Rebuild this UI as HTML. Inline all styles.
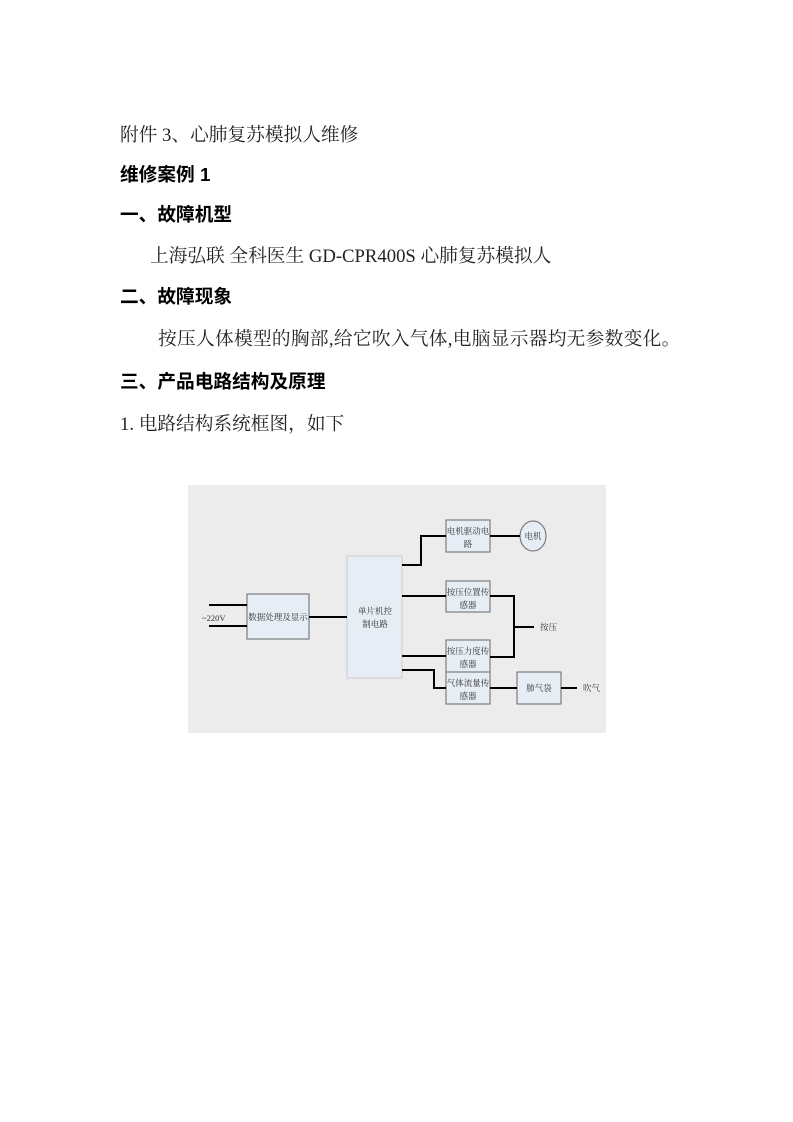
<!DOCTYPE html>
<html><head><meta charset="utf-8"><style>
body{margin:0;width:793px;height:1122px;background:#fff;position:relative;overflow:hidden}
.t{position:absolute;white-space:nowrap;font-family:"Liberation Serif","Noto Serif CJK SC",serif;font-size:18.7px;line-height:18px;color:#222}
.b{font-family:"Liberation Sans","Noto Sans CJK SC",sans-serif;font-weight:bold;color:#000}
</style></head><body>
<div class="t" style="left:120px;top:127px">附件 3、心肺复苏模拟人维修</div>
<div class="t b" style="left:120px;top:166px">维修案例 1</div>
<div class="t b" style="left:120px;top:206px">一、故障机型</div>
<div class="t" style="left:150px;top:248px">上海弘联 全科医生 GD-CPR400S 心肺复苏模拟人</div>
<div class="t b" style="left:120px;top:288px">二、故障现象</div>
<div class="t" style="left:158px;top:331px;letter-spacing:0.3px">按压人体模型的胸部,给它吹入气体,电脑显示器均无参数变化。</div>
<div class="t b" style="left:120px;top:373px">三、产品电路结构及原理</div>
<div class="t" style="left:120px;top:416px">1. 电路结构系统框图，如下</div>

<svg style="position:absolute;left:0;top:0" width="793" height="1122" font-family="Liberation Serif,Noto Serif CJK SC,serif" font-size="8.5" fill="#333">
<rect x="188" y="485" width="418" height="248" fill="#ececec"/>
<g fill="#e6edf4" stroke="#666" stroke-width="1">
<rect x="247" y="594" width="62" height="45"/>
<rect x="347" y="556" width="55" height="122" stroke="#ccc"/>
<rect x="446" y="520" width="44" height="32"/>
<rect x="446" y="581" width="44" height="31"/>
<rect x="446" y="640" width="44" height="32"/>
<rect x="446" y="672" width="44" height="32"/>
<rect x="517" y="672" width="44" height="32"/>
<ellipse cx="533" cy="536" rx="13" ry="15"/>
</g>
<g stroke="#000" stroke-width="2" fill="none">
<path d="M209 605H247M209 626H247M309 617H347"/>
<path d="M402 565H421V536H446M490 536H520"/>
<path d="M402 596H446M490 596H514V657H490M514 627H534"/>
<path d="M402 656H446M402 670H434V688H446M490 688H517M561 688H577"/>
</g>
<text x="202" y="621">~220V</text>
<text x="278" y="620" text-anchor="middle">数据处理及显示</text>
<text x="375" y="614" text-anchor="middle">单片机控</text>
<text x="375" y="627" text-anchor="middle">制电路</text>
<text x="468" y="534" text-anchor="middle">电机驱动电</text>
<text x="468" y="547" text-anchor="middle">路</text>
<text x="533" y="539" text-anchor="middle">电机</text>
<text x="468" y="595" text-anchor="middle">按压位置传</text>
<text x="468" y="608" text-anchor="middle">感器</text>
<text x="468" y="654" text-anchor="middle">按压力度传</text>
<text x="468" y="667" text-anchor="middle">感器</text>
<text x="468" y="686" text-anchor="middle">气体流量传</text>
<text x="468" y="699" text-anchor="middle">感器</text>
<text x="539" y="691" text-anchor="middle">肺气袋</text>
<text x="540" y="630">按压</text>
<text x="583" y="691">吹气</text>
</svg>
</body></html>
